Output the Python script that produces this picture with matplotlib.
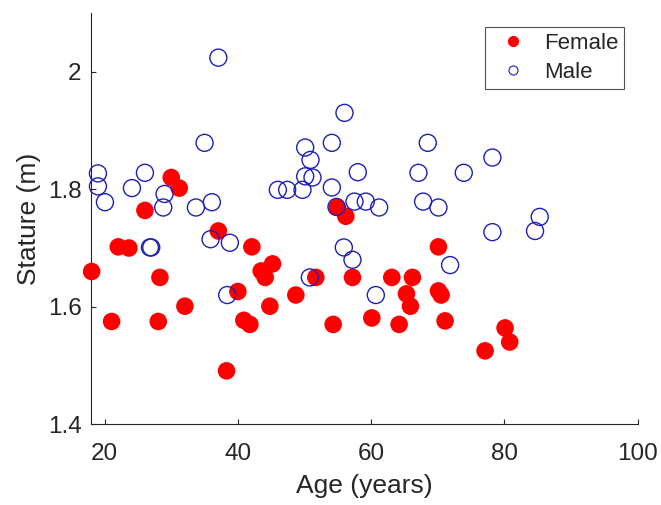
import matplotlib
matplotlib.use("Agg")
import matplotlib.pyplot as plt
from matplotlib.lines import Line2D

plt.rcParams['font.family'] = ['Liberation Sans', 'DejaVu Sans']

# Age (years) and stature (m) per group
female_age = [18.05, 21.05, 22.05, 23.65, 26.05, 28.05, 28.3, 30.0, 31.2, 32.05,
              37.07, 38.3, 40.0, 40.9, 41.8, 42.1, 43.5, 44.1, 44.8, 45.2,
              48.7, 51.7, 54.3, 54.9, 56.2, 57.2, 60.1, 63.1, 64.2, 65.3,
              65.9, 66.2, 70.1, 70.1, 70.5, 71.1, 77.1, 80.1, 80.8]
female_stature = [1.660, 1.575, 1.702, 1.700, 1.764, 1.575, 1.650, 1.820, 1.802, 1.601,
                  1.729, 1.491, 1.626, 1.577, 1.570, 1.702, 1.661, 1.650, 1.601, 1.673,
                  1.620, 1.650, 1.570, 1.769, 1.754, 1.650, 1.581, 1.650, 1.570, 1.622,
                  1.601, 1.650, 1.702, 1.627, 1.620, 1.576, 1.525, 1.564, 1.540]

male_age = [19.0, 19.0, 20.05, 24.1, 26.05, 26.8, 27.0, 28.8, 29.0, 33.7,
            35.0, 35.9, 36.1, 37.07, 38.4, 38.8, 46.0, 47.4, 49.7, 50.1,
            50.1, 50.8, 50.9, 51.2, 54.1, 54.1, 54.8, 55.9, 56.0, 57.2,
            57.5, 58.0, 59.2, 60.7, 61.2, 67.1, 67.8, 68.5, 70.1, 71.85,
            73.9, 78.2, 78.2, 84.6, 85.3]
male_stature = [1.827, 1.805, 1.778, 1.802, 1.828, 1.701, 1.701, 1.769, 1.792, 1.769,
                1.879, 1.715, 1.778, 2.024, 1.620, 1.709, 1.799, 1.799, 1.799, 1.871,
                1.822, 1.650, 1.850, 1.820, 1.879, 1.803, 1.770, 1.701, 1.930, 1.680,
                1.779, 1.829, 1.779, 1.620, 1.769, 1.828, 1.779, 1.879, 1.769, 1.671,
                1.828, 1.854, 1.727, 1.729, 1.753]

x_ticks = [20, 40, 60, 80, 100]
y_ticks = [1.4, 1.6, 1.8, 2.0]
y_tick_labels = ['1.4', '1.6', '1.8', '2']

text_color = '#262626'
female_color = '#ff0000'
male_color = '#1f1fb4'

fig = plt.figure(figsize=(6.61, 5.05), dpi=100)
ax = fig.add_axes([0.1381, 0.1598, 0.8266, 0.8145])

ax.scatter(female_age, female_stature, s=160, c=female_color, edgecolors='none',
           zorder=3, clip_on=False)
ax.scatter(male_age, male_stature, s=150, facecolors='none', edgecolors=male_color,
           linewidths=1.0, zorder=4, clip_on=False)

ax.set_xlim(18, 100)
ax.set_ylim(1.4, 2.1)
ax.set_xticks(x_ticks)
ax.set_yticks(y_ticks)
ax.set_yticklabels(y_tick_labels)

for side in ('top', 'right'):
    ax.spines[side].set_visible(False)
for side in ('left', 'bottom'):
    ax.spines[side].set_color(text_color)
    ax.spines[side].set_linewidth(0.8)

ax.tick_params(direction='in', length=3.5, width=0.8, colors=text_color,
               labelsize=17.5)
ax.tick_params(axis='x', pad=13.5)
ax.tick_params(axis='y', pad=7)
ax.set_xlabel('Age (years)', fontsize=19, color=text_color, labelpad=6.5)
ax.set_ylabel('Stature (m)', fontsize=19, color=text_color, labelpad=5)

handles = [
    Line2D([], [], linestyle='none', marker='o', markersize=7,
           markerfacecolor=female_color, markeredgecolor=female_color, label='Female'),
    Line2D([], [], linestyle='none', marker='o', markersize=6.5,
           markerfacecolor='none', markeredgecolor=male_color, markeredgewidth=0.8,
           label='Male'),
]
leg = ax.legend(handles=handles, loc='upper right', bbox_to_anchor=(0.975, 0.965),
                borderaxespad=0, fontsize=16, frameon=True, fancybox=False,
                borderpad=0.25, handletextpad=0.41, labelspacing=0.37,
                handlelength=2.01)
leg.get_frame().set_edgecolor(text_color)
leg.get_frame().set_linewidth(0.8)
for t in leg.get_texts():
    t.set_color(text_color)

fig.savefig('out.png', dpi=100, facecolor='white')
